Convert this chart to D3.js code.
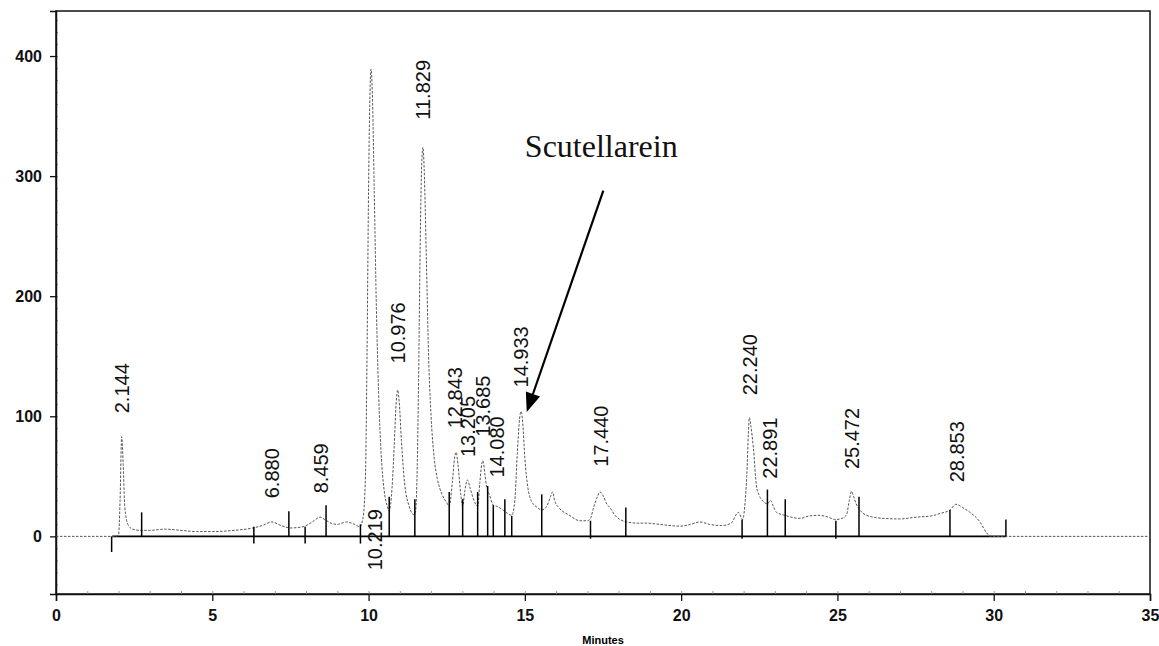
<!DOCTYPE html>
<html>
<head>
<meta charset="utf-8">
<script src="https://cdn.jsdelivr.net/npm/d3@7"></script>
<style>
  html, body { margin: 0; padding: 0; background: #fff; }
  svg { display: block; }
</style>
</head>
<body>
<svg id="chart" width="1159" height="646"></svg>
<script>
// ---- Data ----
const traceTime = [0, 1.9, 2.0, 2.05, 2.10, 2.15, 2.2, 2.3, 2.45, 2.7, 3.0, 3.5, 4.0, 4.5, 5.0, 5.7, 6.3, 6.6, 6.9, 7.2, 7.5, 7.9, 8.2, 8.45, 8.6, 8.8, 9.0, 9.3, 9.55, 9.72, 9.82, 9.9, 9.95, 10.0, 10.05, 10.08, 10.12, 10.18, 10.25, 10.32, 10.4, 10.5, 10.6, 10.66, 10.75, 10.82, 10.88, 10.93, 10.98, 11.05, 11.15, 11.3, 11.45, 11.5, 11.55, 11.6, 11.65, 11.7, 11.74, 11.78, 11.85, 11.92, 12.0, 12.1, 12.2, 12.35, 12.5, 12.58, 12.68, 12.75, 12.8, 12.86, 12.95, 13.01, 13.08, 13.16, 13.25, 13.4, 13.49, 13.56, 13.62, 13.66, 13.72, 13.78, 13.86, 13.99, 14.1, 14.3, 14.45, 14.58, 14.68, 14.76, 14.84, 14.88, 14.93, 15.0, 15.1, 15.2, 15.4, 15.54, 15.7, 15.82, 15.89, 15.95, 16.12, 16.4, 16.76, 17.0, 17.1, 17.2, 17.32, 17.4, 17.5, 17.62, 17.72, 17.9, 18.26, 18.6, 18.9, 19.3, 19.96, 20.3, 20.6, 20.9, 21.3, 21.6, 21.83, 21.97, 22.05, 22.1, 22.15, 22.18, 22.23, 22.31, 22.41, 22.5, 22.63, 22.76, 22.86, 22.95, 23.05, 23.32, 23.8, 24.1, 24.44, 24.7, 24.94, 25.15, 25.29, 25.38, 25.45, 25.52, 25.6, 25.69, 25.93, 26.46, 27.0, 27.53, 28.0, 28.28, 28.6, 28.79, 29.0, 29.24, 29.56, 29.77, 29.9, 35];
const traceValue = [0, 0, 1, 30, 83, 60, 25, 10, 6, 5, 5, 6, 5, 4, 4, 5, 7, 9, 12, 9, 7, 8, 12, 16, 14, 11, 10, 12, 10, 8, 15, 50, 150, 290, 375, 389, 370, 290, 190, 120, 70, 38, 25, 21, 40, 75, 110, 122, 112, 80, 45, 25, 18, 20, 50, 130, 240, 310, 324, 305, 230, 150, 100, 65, 48, 35, 28, 25, 45, 65, 70, 60, 35, 25, 38, 47, 40, 28, 25, 45, 60, 63, 52, 41, 35, 26, 25, 22, 19, 17.5, 30, 70, 100, 104, 95, 65, 40, 30, 24, 22, 25, 33, 37, 30, 23, 18, 13, 13, 15, 24, 33, 37, 34, 27, 24, 17, 12, 11, 11, 10, 8.5, 10, 12, 10, 9, 11, 20, 14, 30, 50, 85, 99, 92, 74, 42, 34, 29, 27, 30, 25, 20, 17.5, 15, 17, 17.5, 16, 14, 15, 18, 30, 37.5, 33, 27, 23, 17.5, 15, 14.5, 16, 17, 19, 22, 26.7, 24, 20, 12, 3, 0, 0];

const baselineStart = 1.8;
const baselineEnd = 30.4;

const markerTimes  = [1.78, 2.74, 6.33, 7.45, 7.97, 8.64, 9.74, 10.66, 11.48, 12.58, 13.01, 13.49, 13.81, 13.99, 14.36, 14.58, 15.54, 17.10, 18.23, 21.95, 22.76, 23.33, 24.95, 25.69, 28.60, 30.39];
const markerTop    = [0, 20, 8, 21, 8, 26, 10, 33, 31, 37, 31, 37, 42, 26, 31, 17, 35, 13, 24, 14, 39, 31, 13, 33, 22, 14];
const markerBottom = [-13, 0, -6, 0, -6, 0, -6, 0, 0, 0, 0, 0, 0, 0, 0, 0, 0, -2, 0, -2, 0, 0, -2, 0, 0, 0];

const peakLabels  = ["2.144", "6.880", "8.459", "10.219", "10.976", "11.829", "12.843", "13.205", "13.685", "14.080", "14.933", "17.440", "22.240", "22.891", "25.472", "28.853"];
const labelTimes  = [2.10, 6.90, 8.47, 10.20, 10.95, 11.72, 12.76, 13.16, 13.64, 14.10, 14.87, 17.42, 22.20, 22.84, 25.45, 28.81];
const labelLevels = [102.5, 31.7, 35.8, -28.3, 144, 347, 90, 66, 83, 49, 124, 58, 117.5, 48, 56, 45];

const xTicks = [0, 5, 10, 15, 20, 25, 30, 35];
const yTicks = [0, 100, 200, 300, 400];
const xTitle = "Minutes";

const annotationText = "Scutellarein";
const annotationAt = [15.0, 316];
const arrowFrom = [17.51, 288];
const arrowTo = [15.06, 103.6];

// ---- Drawing ----
const svg = d3.select("#chart");
const x = d3.scaleLinear().domain([0, 35]).range([56, 1150]);
const y = d3.scaleLinear().domain([-48, 437.5]).range([594, 11]);

const fontSans = "'Liberation Sans', Arial, sans-serif";

// frame
svg.append("rect")
  .attr("x", x(0)).attr("y", y(437.5))
  .attr("width", x(35) - x(0)).attr("height", y(-48) - y(437.5))
  .attr("fill", "none").attr("stroke", "#111").attr("stroke-width", 1.5);

// minor ticks
svg.append("g")
  .attr("transform", `translate(0,${y(-48)})`)
  .call(d3.axisTop(x).tickValues(d3.range(1, 35, 1)).tickSize(3).tickFormat(""))
  .call(g => g.select(".domain").remove())
  .call(g => g.selectAll("line").attr("stroke", "#999"));
svg.append("g")
  .attr("transform", `translate(${x(0)},0)`)
  .call(d3.axisRight(y).tickValues(d3.range(-40, 440, 10)).tickSize(2).tickFormat(""))
  .call(g => g.select(".domain").remove())
  .call(g => g.selectAll("line").attr("stroke", "#999"));

// major axes
const xAxis = svg.append("g")
  .attr("transform", `translate(0,${y(-48)})`)
  .call(d3.axisBottom(x).tickValues(xTicks).tickSize(7).tickPadding(9).tickFormat(d3.format("d")));
const yAxis = svg.append("g")
  .attr("transform", `translate(${x(0)},0)`)
  .call(d3.axisLeft(y).tickValues(yTicks).tickSize(6).tickPadding(8).tickFormat(d3.format("d")));
[xAxis, yAxis].forEach(g => {
  g.select(".domain").attr("stroke", "#111").attr("stroke-width", 1.5);
  g.selectAll(".tick line").attr("stroke", "#111").attr("stroke-width", 1.3);
  g.selectAll(".tick text")
    .attr("font-family", fontSans).attr("font-size", 16).attr("font-weight", "bold").attr("fill", "#111");
});

svg.append("text")
  .attr("x", (x(0) + x(35)) / 2 - 0).attr("y", 644)
  .attr("text-anchor", "middle")
  .attr("font-family", fontSans).attr("font-size", 11).attr("font-weight", "bold")
  .text(xTitle);

// integration baseline
svg.append("line")
  .attr("x1", x(baselineStart)).attr("x2", x(baselineEnd))
  .attr("y1", y(0)).attr("y2", y(0))
  .attr("stroke", "#000").attr("stroke-width", 1.6);

// chromatogram trace
const traceData = traceTime.map((t, i) => [t, traceValue[i]]);
svg.append("path")
  .datum(traceData)
  .attr("fill", "none")
  .attr("stroke", "#555")
  .attr("stroke-width", 1)
  .attr("stroke-dasharray", "2.5,1.5")
  .attr("d", d3.line().x(d => x(d[0])).y(d => y(d[1])).curve(d3.curveMonotoneX));

// peak start/end markers
svg.append("g").selectAll("line")
  .data(markerTimes.map((t, i) => ({ t, top: markerTop[i], bottom: markerBottom[i] })))
  .join("line")
  .attr("x1", d => x(d.t)).attr("x2", d => x(d.t))
  .attr("y1", d => y(d.top)).attr("y2", d => y(d.bottom))
  .attr("stroke", "#000").attr("stroke-width", 1.5);

// peak labels
svg.append("g").selectAll("text")
  .data(peakLabels.map((s, i) => ({ s, t: labelTimes[i], v: labelLevels[i] })))
  .join("text")
  .attr("transform", d => `translate(${x(d.t)},${y(d.v)}) rotate(-90)`)
  .attr("dy", "0.36em")
  .attr("text-anchor", "start")
  .attr("font-family", fontSans)
  .attr("font-size", 20)
  .attr("fill", "#111")
  .text(d => d.s);

// annotation
svg.append("text")
  .attr("x", x(annotationAt[0])).attr("y", y(annotationAt[1]))
  .attr("font-family", "'Liberation Serif', 'Times New Roman', serif")
  .attr("font-size", 32)
  .attr("fill", "#111")
  .text(annotationText);

const ax1 = x(arrowFrom[0]), ay1 = y(arrowFrom[1]);
const ax2 = x(arrowTo[0]), ay2 = y(arrowTo[1]);
const ang = Math.atan2(ay2 - ay1, ax2 - ax1);
const headLen = 19, headHalf = 7.5;
const bx = ax2 - headLen * Math.cos(ang), by = ay2 - headLen * Math.sin(ang);
svg.append("line")
  .attr("x1", ax1).attr("y1", ay1).attr("x2", bx).attr("y2", by)
  .attr("stroke", "#000").attr("stroke-width", 2.2);
svg.append("path")
  .attr("d", d3.line()([
    [ax2, ay2],
    [bx + headHalf * Math.sin(ang), by - headHalf * Math.cos(ang)],
    [bx - headHalf * Math.sin(ang), by + headHalf * Math.cos(ang)]
  ]) + "Z")
  .attr("fill", "#000");
</script>
</body>
</html>
